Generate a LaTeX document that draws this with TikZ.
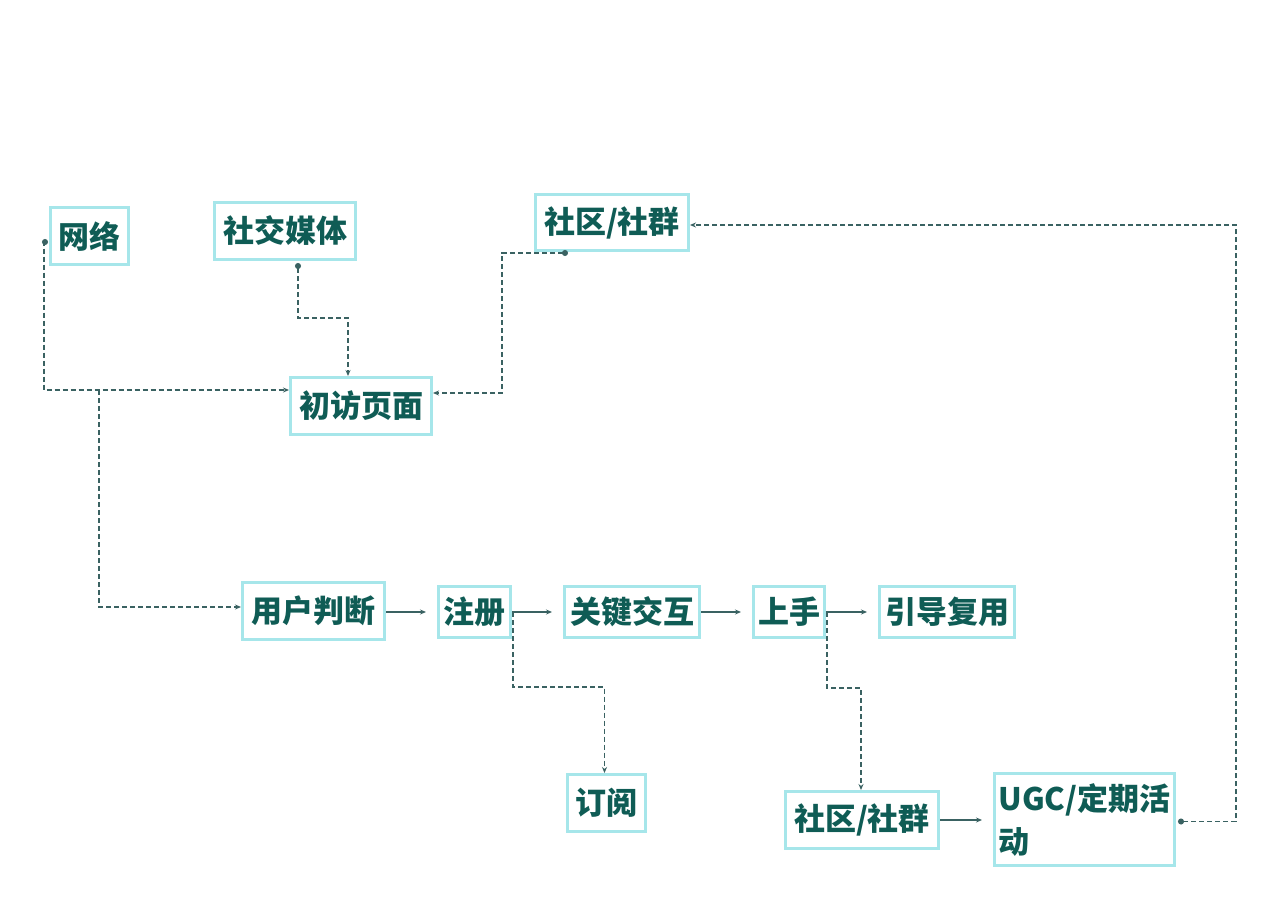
\documentclass[tikz,border=0pt]{standalone}
\usepackage{fontspec}
\newfontfamily\cjk{Noto Sans CJK SC}
\usetikzlibrary{arrows.meta,calc}
\definecolor{boxline}{HTML}{A6E6EA}
\definecolor{txt}{HTML}{0F5C55}
\definecolor{conn}{HTML}{3A6262}
\tikzset{
  box/.style={draw=boxline,line width=3pt,fill=white,text=txt,inner sep=2pt,
    font=\cjk\bfseries\fontsize{31}{43}\selectfont},
  dashconn/.style={draw=conn,line width=1.2pt,dash pattern=on 5pt off 3pt,
    -{Stealth[length=6pt,width=5pt]}},
  dotconn/.style={draw=conn,line width=1.2pt,dash pattern=on 5pt off 3pt,
    {Circle[length=6pt,width=6pt]}-{Stealth[length=6pt,width=5pt]}},
  solidconn/.style={draw=conn,line width=1.2pt,-{Stealth[length=6pt,width=5pt]},shorten >=11pt}
}
\begin{document}
\begin{tikzpicture}[x=1pt,y=-1pt]
\useasboundingbox[fill=white] (0,0) rectangle (1280,902);
% nodes
\node[box,minimum width=78,minimum height=57] (net) at (89.5,236) {网络};
\node[box,minimum width=141,minimum height=57] (media) at (285,231) {社交媒体};
\node[box,minimum width=153,minimum height=56] (comm) at (612,222.5) {社区/社群};
\node[box,minimum width=141,minimum height=57] (visit) at (361,406) {初访页面};
\node[box,minimum width=142,minimum height=57] (user) at (313.5,611) {用户判断};
\node[box,minimum width=72,minimum height=51] (reg) at (474.5,612) {注册};
\node[box,minimum width=135,minimum height=51] (key) at (632,612) {关键交互};
\node[box,minimum width=71,minimum height=51] (hand) at (789,612) {上手};
\node[box,minimum width=135,minimum height=51] (guide) at (947,612) {引导复用};
\node[box,minimum width=78,minimum height=57] (sub) at (606.5,803) {订阅};
\node[box,minimum width=153,minimum height=57] (comm2) at (862,820) {社区/社群};
\node[box,minimum width=180,minimum height=92,text width=172,align=left,inner sep=3pt] (ugc) at (1084.5,819.5) {UGC/定期活\\动};
% dashed connectors
\coordinate (br) at (99,390);
\draw[dotconn] ($(net.west)+(-1,6)$) -- ++(-4,0) |- (visit.west |- br);
\draw[dashconn] (br) |- ($(user.west)+(0,-4)$);
\draw[dotconn] ($(media.south)+(13,2)$) -- ++(0,55) -| ($(visit.north)+(-13,0)$);
\draw[dotconn] ($(comm.south)+(-44,1)$) -- ++(-66,0) |- ($(visit.east)+(0,-13)$);
\draw[dotconn] ($(ugc.east)+(2,2)$) -- ++(58,0) |- ($(comm.east)+(0,2.5)$);
\draw[dashconn] ($(reg.east)+(1,0)$) -- ++(0,75) -| ($(sub.north)+(-2,0)$);
\draw[dashconn] ($(hand.east)+(1,0)$) -- ++(0,76) -| ($(comm2.north)+(-1,0)$);
% solid connectors
\draw[solidconn] (user.east |- reg.west) -- (reg.west);
\draw[solidconn] (reg.east) -- (key.west);
\draw[solidconn] (key.east) -- (hand.west);
\draw[solidconn] (hand.east) -- (guide.west);
\draw[solidconn] (comm2.east) -- (ugc.west |- comm2.east);
\end{tikzpicture}
\end{document}
